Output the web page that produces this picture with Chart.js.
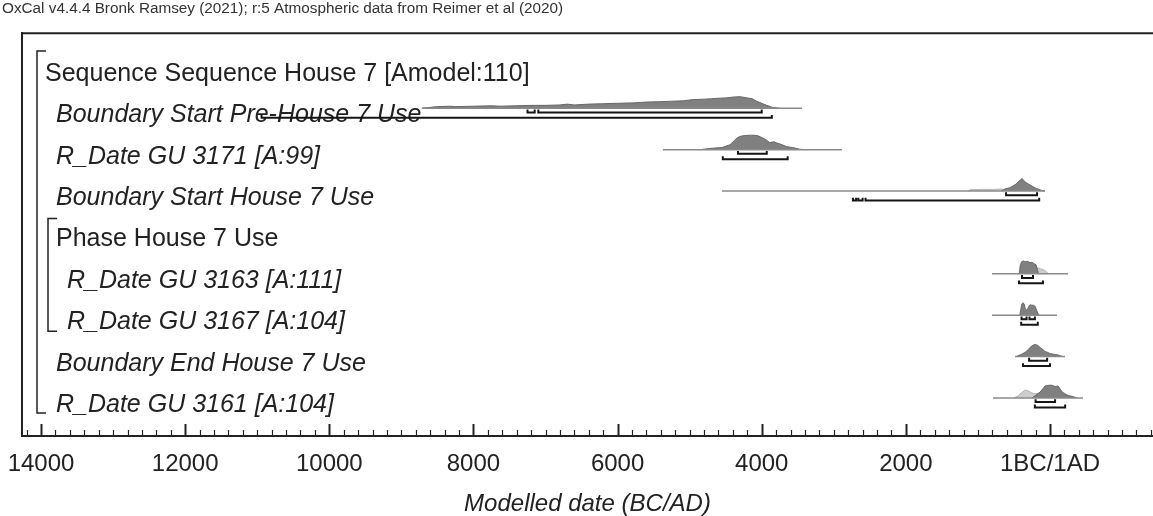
<!DOCTYPE html>
<html>
<head>
<meta charset="utf-8">
<title>Sequence House 7 - modelled dates</title>
<script src="https://cdn.jsdelivr.net/npm/chart.js@4.4.0/dist/chart.umd.min.js"></script>
<style>
  html, body { margin: 0; padding: 0; background: #fff; }
  #wrap { position: relative; width: 1153px; height: 516px; }
</style>
</head>
<body>
<div id="wrap"><canvas id="myChart"></canvas></div>
<script>
const FONT = '"Liberation Sans", Arial, Helvetica, sans-serif';

// row names, top to bottom, and how deep each sits in the model
const rowLabels = [
  "Sequence Sequence House 7 [Amodel:110]",
  "Boundary Start Pre-House 7 Use",
  "R_Date GU 3171 [A:99]",
  "Boundary Start House 7 Use",
  "Phase House 7 Use",
  "R_Date GU 3163 [A:111]",
  "R_Date GU 3167 [A:104]",
  "Boundary End House 7 Use",
  "R_Date GU 3161 [A:104]"
];
const rowDepth = [0, 1, 1, 1, 1, 2, 2, 1, 1];

// axis (calendar years, BC negative)
const axisMin = -14264;
const axisMax = 1429;
const majorTicks = [-14000, -12000, -10000, -8000, -6000, -4000, -2000, 0];
const majorLabels = ["14000", "12000", "10000", "8000", "6000", "4000", "2000", "1BC/1AD"];
const minorStep = 200;

// probabilities are given in row heights (1 = distance between rows)

// Boundary Start Pre-House 7 Use
const startPreSpan = [-8716, -3442];
const startPreYears = [-8716, -8500, -8330, -8250, -8000, -7750, -7630, -7400, -7200, -7000, -6800, -6700,
  -6600, -6400, -6200, -6000, -5790, -5600, -5400, -5250, -5090, -4950, -4800, -4700, -4620, -4500,
  -4400, -4300, -4200, -4130, -4070, -4000, -3930, -3850, -3750];
const startPreProb = [0, .04, .05, .04, .05, .06, .05, .06, .07, .07, .08, .10,
  .08, .10, .11, .12, .13, .15, .16, .17, .18, .21, .22, .23, .24, .25,
  .27, .28, .25, .23, .17, .12, .07, .02, 0];
const startPre68 = [[-7250, -7150], [-7100, -4000]];
const startPre95 = [[-10940, -3860]];

// R_Date GU 3171
const gu3171Span = [-5371, -2887];
const gu3171Years = [-4860, -4760, -4650, -4550, -4440, -4380, -4340, -4280, -4230, -4140, -4060,
  -4020, -3940, -3890, -3830, -3790, -3750, -3650, -3570, -3470, -3380];
const gu3171Prob = [0, .02, .04, .05, .12, .22, .29, .33, .34, .35, .34,
  .31, .24, .17, .19, .16, .14, .07, .05, .01, 0];
const gu3171R68 = [[-4330, -3930]];
const gu3171R95 = [[-4540, -3640]];

// Boundary Start House 7 Use
const startSpan = [-4552, -69];
const startPriorYears = [-1140, -1110, -950, -800, -660, -640];
const startPriorProb = [0, .03, .04, .04, .05, 0];
const startYears = [-680, -625, -560, -514, -470, -444, -410, -389, -370, -347, -300, -250, -200, -167, -111, -69];
const startProb = [0, .05, .08, .12, .17, .22, .27, .30, .27, .22, .17, .12, .07, .05, .01, 0];
const startR68 = [[-610, -180]];
const startR95 = [[-2735, -2690], [-2660, -2600], [-2560, -150]];

// R_Date GU 3163
const gu3163Span = [-805, 250];
const gu3163PriorYears = [-430, -415, -390, -300, -230, -200, -170, -130, -90, -50, -20];
const gu3163PriorProb = [0, .22, .27, .27, .24, .19, .14, .12, .10, .05, 0];
const gu3163Years = [-425, -410, -395, -370, -340, -310, -280, -250, -220, -195, -175, -160];
const gu3163Prob = [0, .19, .29, .31, .29, .30, .27, .28, .24, .22, .10, 0];
const gu3163R68 = [[-389, -236]];
const gu3163R95 = [[-430, -97]];

// R_Date GU 3167
const gu3167Span = [-805, 97];
const gu3167Years = [-420, -405, -390, -375, -360, -345, -330, -315, -300, -285, -270, -250, -230, -210, -190, -170, -150];
const gu3167Prob = [0, .14, .27, .30, .27, .17, .12, .13, .19, .24, .25, .24, .24, .22, .14, .05, 0];
const gu3167R68 = [[-395, -325], [-285, -210]];
const gu3167R95 = [[-400, -170]];

// Boundary End House 7 Use
const endSpan = [-486, 208];
const endYears = [-470, -444, -400, -347, -300, -278, -240, -208, -170, -139, -100, -69, -30, 0, 40, 69, 110, 139, 180];
const endProb = [0, .02, .05, .10, .17, .22, .27, .29, .27, .22, .17, .12, .10, .07, .06, .05, .04, .02, 0];
const endR68 = [[-290, -40]];
const endR95 = [[-375, 0]];

// R_Date GU 3161
const gu3161Span = [-791, 458];
const gu3161PriorYears = [-500, -444, -400, -347, -300, -250, -208, -150, -100, -50, 0, 60, 120, 180, 240, 300, 360];
const gu3161PriorProb = [0, .05, .12, .19, .17, .12, .10, .12, .17, .22, .24, .24, .22, .14, .07, .02, 0];
const gu3161Years = [-250, -208, -170, -139, -100, -69, -30, 0, 40, 69, 111, 140, 167, 200, 236, 270, 305, 340, 375];
const gu3161Prob = [0, .05, .10, .14, .22, .29, .30, .31, .30, .27, .29, .22, .14, .10, .07, .05, .04, .02, 0];
const gu3161R68 = [[-200, 70]];
const gu3161R95 = [[-210, 210]];

const plotted = [
  {row: 1, span: startPreSpan, years: startPreYears, prob: startPreProb, r68: startPre68, r95: startPre95},
  {row: 2, span: gu3171Span, years: gu3171Years, prob: gu3171Prob, r68: gu3171R68, r95: gu3171R95},
  {row: 3, span: startSpan, years: startYears, prob: startProb, priorYears: startPriorYears, priorProb: startPriorProb, r68: startR68, r95: startR95},
  {row: 5, span: gu3163Span, years: gu3163Years, prob: gu3163Prob, priorYears: gu3163PriorYears, priorProb: gu3163PriorProb, r68: gu3163R68, r95: gu3163R95},
  {row: 6, span: gu3167Span, years: gu3167Years, prob: gu3167Prob, r68: gu3167R68, r95: gu3167R95},
  {row: 7, span: endSpan, years: endYears, prob: endProb, r68: endR68, r95: endR95},
  {row: 8, span: gu3161Span, years: gu3161Years, prob: gu3161Prob, priorYears: gu3161PriorYears, priorProb: gu3161PriorProb, r68: gu3161R68, r95: gu3161R95}
];

// range bars sit just under the baseline, ends turned up
const bar68Offset = 0.10;
const bar95Offset = 0.23;
const capHeight = 0.07;

const curve = (years, prob, row) => years.map((x, i) => ({x: x, y: row - prob[i]}));

const rangePath = (ranges, y) => {
  const pts = [];
  for (const [a, b] of ranges) {
    pts.push({x: a, y: y - capHeight}, {x: a, y: y}, {x: b, y: y}, {x: b, y: y - capHeight}, {x: b, y: null});
  }
  return pts;
};

const datasets = [];
for (const p of plotted) {
  if (p.priorYears) {
    datasets.push({
      data: curve(p.priorYears, p.priorProb, p.row),
      fill: {value: p.row},
      backgroundColor: "#cdcdcd",
      borderColor: "#b4b4b4",
      borderWidth: 1,
      order: 3
    });
  }
  datasets.push({
    data: curve(p.years, p.prob, p.row),
    fill: {value: p.row},
    backgroundColor: "#808080",
    borderColor: "#686868",
    borderWidth: 1,
    order: 2
  });
  datasets.push({
    data: [{x: p.span[0], y: p.row}, {x: p.span[1], y: p.row}],
    borderColor: "#8a8a8a",
    borderWidth: 1.5,
    order: 1
  });
  datasets.push({
    data: rangePath(p.r68, p.row + bar68Offset),
    borderColor: "#151515",
    borderWidth: 2,
    order: 0
  });
  datasets.push({
    data: rangePath(p.r95, p.row + bar95Offset),
    borderColor: "#151515",
    borderWidth: 2,
    order: 0
  });
}

// names of the rows and the sequence / phase brackets
const rowText = {
  id: "rowText",
  beforeDatasetsDraw(chart) {
    const {ctx, chartArea} = chart;
    const y = chart.scales.y;
    ctx.save();
    ctx.fillStyle = "#222";
    ctx.textBaseline = "middle";
    rowLabels.forEach((label, i) => {
      const italic = !/^(Sequence|Phase)/.test(label);
      ctx.font = (italic ? "italic " : "") + "25px " + FONT;
      ctx.fillText(label, chartArea.left + 23 + rowDepth[i] * 11, y.getPixelForValue(i) + 7);
    });

    // top edge of the frame
    ctx.strokeStyle = "#222";
    ctx.lineWidth = 2;
    ctx.beginPath();
    ctx.moveTo(chartArea.left, chartArea.top);
    ctx.lineTo(chartArea.right, chartArea.top);
    ctx.stroke();

    const bracket = (x, top, bottom, len) => {
      ctx.beginPath();
      ctx.moveTo(x + len, top);
      ctx.lineTo(x, top);
      ctx.lineTo(x, bottom);
      ctx.lineTo(x + len, bottom);
      ctx.stroke();
    };
    ctx.lineWidth = 1.5;
    bracket(chartArea.left + 15, y.getPixelForValue(0) - 16, y.getPixelForValue(8) + 15, 9);
    bracket(chartArea.left + 26, y.getPixelForValue(4) - 14, y.getPixelForValue(6) + 16, 9);
    ctx.restore();
  }
};

// tick marks point up into the plot
const innerTicks = {
  id: "innerTicks",
  afterDatasetsDraw(chart) {
    const {ctx, chartArea} = chart;
    const xs = chart.scales.x;
    ctx.save();
    ctx.strokeStyle = "#222";
    for (const t of xs.ticks) {
      const major = majorTicks.includes(t.value);
      const px = Math.round(xs.getPixelForValue(t.value)) + 0.5;
      ctx.lineWidth = major ? 2 : 1.2;
      ctx.beginPath();
      ctx.moveTo(px, chartArea.bottom);
      ctx.lineTo(px, chartArea.bottom - (major ? 12 : 6));
      ctx.stroke();
    }
    ctx.restore();
  }
};

const chart = new Chart("myChart", {
  type: "line",
  data: {datasets: datasets},
  options: {
    responsive: true,
    maintainAspectRatio: false,
    animation: false,
    devicePixelRatio: 1,
    spanGaps: false,
    elements: {
      point: {radius: 0, hoverRadius: 0},
      line: {tension: 0, borderCapStyle: "butt", borderJoinStyle: "miter"}
    },
    layout: {padding: {left: 2, right: 0, top: 0, bottom: 0}},
    plugins: {
      legend: {display: false},
      tooltip: {enabled: false},
      title: {
        display: true,
        text: "OxCal v4.4.4 Bronk Ramsey (2021); r:5 Atmospheric data from Reimer et al (2020)",
        align: "start",
        color: "#333",
        font: {family: FONT, size: 15.3, weight: "normal"},
        padding: {top: 0, bottom: 15}
      }
    },
    scales: {
      x: {
        type: "linear",
        min: axisMin,
        max: axisMax,
        afterBuildTicks: scale => {
          const ticks = [];
          for (let v = -14200; v <= axisMax; v += minorStep) ticks.push({value: v});
          scale.ticks = ticks;
        },
        afterFit: scale => {
          scale.height = 80;
          scale.paddingLeft = 0;
          scale.paddingRight = 0;
        },
        grid: {display: false, drawTicks: false},
        border: {display: true, color: "#222", width: 2},
        ticks: {
          autoSkip: false,
          maxRotation: 0,
          padding: 14,
          color: "#222",
          font: {family: FONT, size: 24},
          callback: v => {
            const i = majorTicks.indexOf(v);
            return i < 0 ? "" : majorLabels[i];
          }
        },
        title: {
          display: true,
          text: "Modelled date (BC/AD)",
          color: "#222",
          font: {family: FONT, size: 24, style: "italic"},
          padding: {top: 0, bottom: -3}
        }
      },
      y: {
        type: "linear",
        reverse: true,
        min: -0.81,
        max: 8.92,
        afterFit: scale => { scale.width = 20; },
        ticks: {display: false},
        grid: {display: false},
        border: {display: true, color: "#222", width: 2}
      }
    }
  },
  plugins: [rowText, innerTicks]
});
</script>
</body>
</html>
